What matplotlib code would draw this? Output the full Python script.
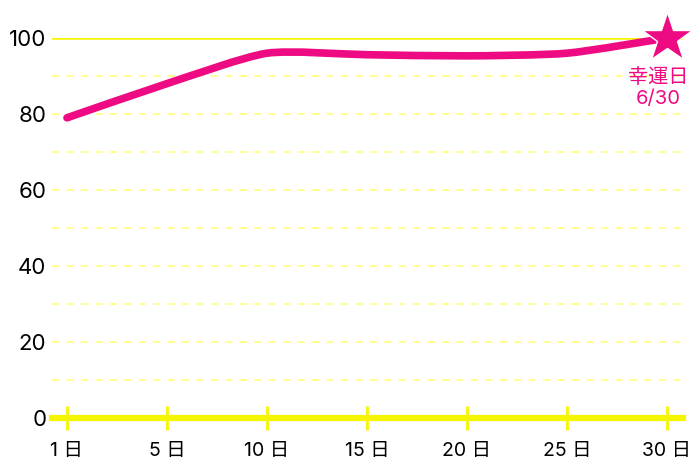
import numpy as np
import matplotlib.pyplot as plt
from matplotlib.path import Path
from matplotlib.patches import PathPatch

days = ['1', '5', '10', '15', '20', '25', '30']
values = [79, 88, 96, 95.6, 95.3, 96, 100]
y_ticks = [0, 20, 40, 60, 80, 100]
lucky_label = '幸運日\n6/30'

pink = '#EE0A82'
yellow = '#F5F500'
light_yellow = '#FFFF88'
font = ['Inter', 'Noto Sans CJK JP', 'DejaVu Sans']

plt.rcParams['font.family'] = font

fig = plt.figure(figsize=(7, 4.67), dpi=100)
ax = fig.add_axes([52 / 700, (467 - 418) / 467, 631 / 700, 380 / 467])

x = np.arange(len(days))
ax.set_xlim(-0.15, len(days) - 1 + 0.16)
ax.set_ylim(0, 100)

# grid lines every 10, dashed; 100 solid
for v in range(10, 100, 10):
    ax.axhline(v, color=light_yellow, lw=1.3, ls=(0, (4, 4)), zorder=1)
ax.axhline(100, color=yellow, lw=1.8, zorder=1)
ax.axhline(0, color=yellow, lw=4.5, zorder=2, clip_on=False)

# smooth line through the points (bezier, mild tension)
pts = np.column_stack([x, values]).astype(float)
verts = [tuple(pts[0])]
codes = [Path.MOVETO]
for i in range(len(pts) - 1):
    p0 = pts[max(i - 1, 0)]
    p1 = pts[i]
    p2 = pts[i + 1]
    p3 = pts[min(i + 2, len(pts) - 1)]
    c1 = p1 + (p2 - p0) / 9
    c2 = p2 - (p3 - p1) / 9
    verts += [tuple(c1), tuple(c2), tuple(p2)]
    codes += [Path.CURVE4] * 3
patch = PathPatch(Path(verts, codes), fill=False, edgecolor=pink, lw=5.5,
                  capstyle='round', joinstyle='round', zorder=3, clip_on=False)
ax.add_patch(patch)

ax.plot(x[-1], values[-1], marker='*', ms=38, color=pink, mec='white', mew=1,
        zorder=4, clip_on=False)
ax.text(x[-1] - 0.09, values[-1] - 7.8, lucky_label, ha='center', va='top',
        color=pink, fontsize=14.5, linespacing=1.25, family=font)

for s in ax.spines.values():
    s.set_visible(False)

ax.set_xticks(x)
ax.set_xticklabels([d + ' 日' for d in days], fontsize=14)
ax.tick_params(axis='x', direction='inout', length=17, width=2, color=yellow,
               pad=9, labelcolor='black')
ax.set_yticks(y_ticks)
ax.set_yticklabels([str(v) for v in y_ticks], fontsize=16)
ax.tick_params(axis='y', length=0, pad=4)

fig.savefig('out.png', dpi=100, facecolor='white')
